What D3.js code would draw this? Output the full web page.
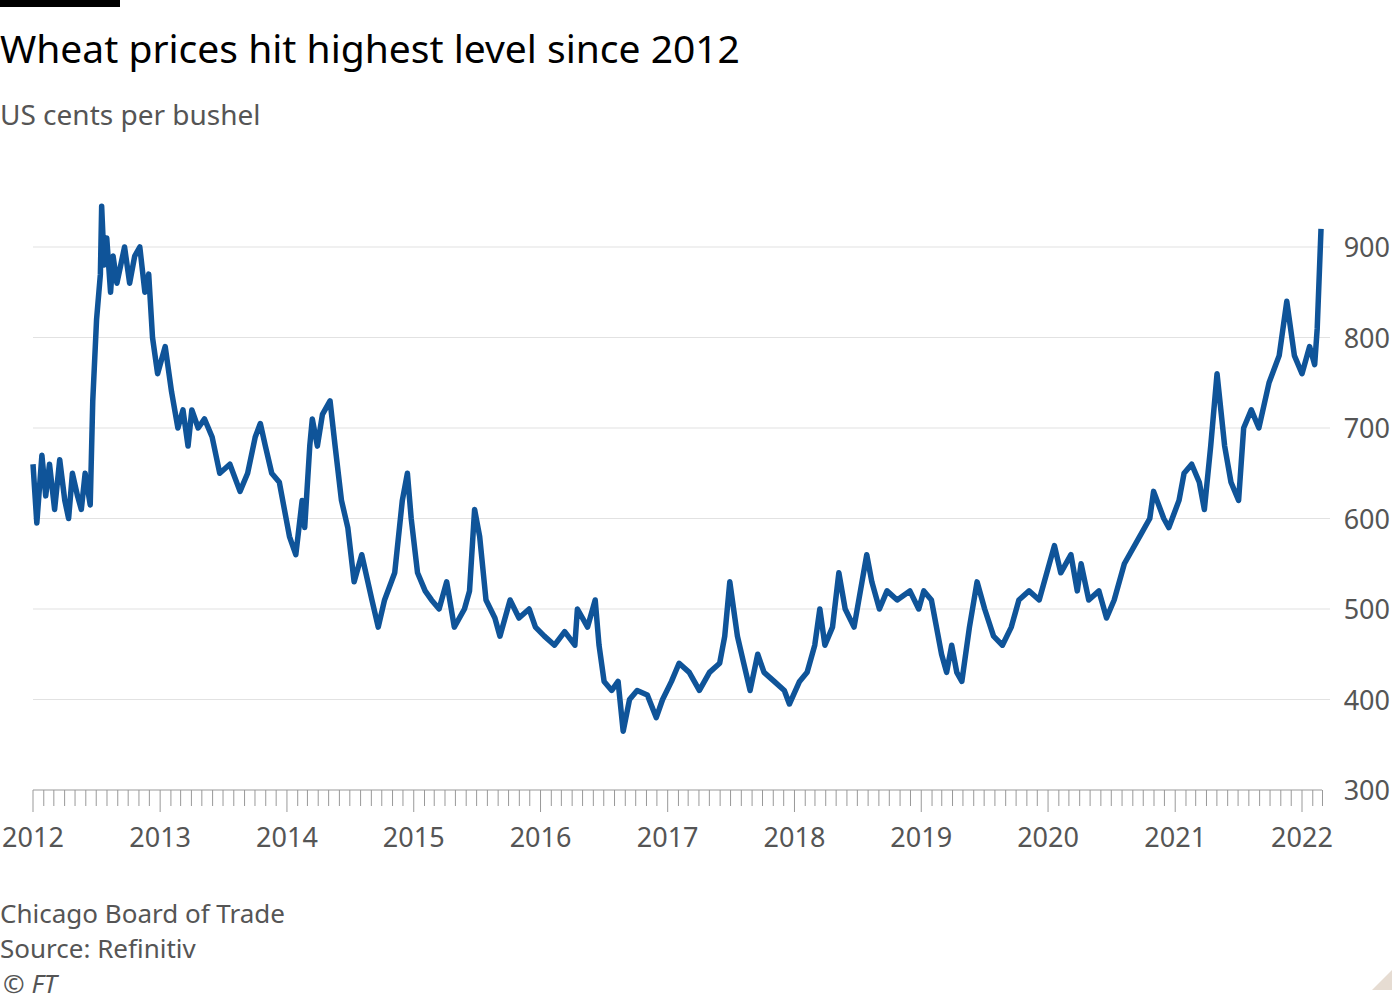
<!DOCTYPE html>
<html><head><meta charset="utf-8">
<script src="https://cdn.jsdelivr.net/npm/d3@7"></script>
<style>body{margin:0;background:#fff;font-family:"Noto Sans",Roboto,sans-serif;}</style>
</head><body>
<svg id="chart" width="1400" height="1000"></svg>
<script>
var times = [2012.0,2012.03,2012.07,2012.1,2012.13,2012.17,2012.21,2012.25,2012.28,2012.31,2012.35,2012.38,2012.41,2012.45,2012.47,2012.5,2012.53,2012.54,2012.56,2012.58,2012.61,2012.63,2012.66,2012.69,2012.72,2012.76,2012.8,2012.84,2012.88,2012.91,2012.94,2012.98,
2013.04,2013.09,2013.14,2013.18,2013.22,2013.25,2013.3,2013.35,2013.41,2013.47,2013.55,2013.63,2013.69,2013.75,2013.79,2013.83,2013.88,2013.94,
2014.02,2014.07,2014.12,2014.14,2014.18,2014.2,2014.24,2014.28,2014.34,2014.38,2014.43,2014.48,2014.53,2014.59,2014.67,2014.72,2014.77,2014.85,2014.91,2014.95,2014.98,
2015.03,2015.09,2015.14,2015.2,2015.26,2015.32,2015.4,2015.44,2015.48,2015.52,2015.57,2015.64,2015.68,2015.76,2015.83,2015.91,2015.96,
2016.03,2016.11,2016.19,2016.27,2016.29,2016.37,2016.43,2016.46,2016.5,2016.56,2016.61,2016.65,2016.7,2016.76,2016.84,2016.91,2016.96,
2017.03,2017.09,2017.17,2017.25,2017.33,2017.41,2017.45,2017.49,2017.55,2017.6,2017.65,2017.71,2017.76,2017.84,2017.92,2017.96,
2018.04,2018.1,2018.16,2018.2,2018.24,2018.3,2018.35,2018.4,2018.47,2018.57,2018.61,2018.67,2018.73,2018.81,2018.91,2018.98,
2019.02,2019.08,2019.16,2019.2,2019.24,2019.28,2019.32,2019.38,2019.44,2019.5,2019.57,2019.64,2019.71,2019.77,2019.85,2019.93,
2020.01,2020.05,2020.1,2020.18,2020.23,2020.26,2020.32,2020.4,2020.46,2020.52,2020.6,2020.72,2020.8,2020.83,2020.91,2020.95,
2021.03,2021.07,2021.13,2021.19,2021.23,2021.28,2021.33,2021.39,2021.44,2021.5,2021.54,2021.6,2021.66,2021.74,2021.82,2021.88,2021.94,
2022.0,2022.06,2022.1,2022.12,2022.15];
var prices = [660,595,670,625,660,610,665,620,600,650,625,610,650,615,730,820,870,945,880,910,850,890,860,880,900,860,890,900,850,870,800,760,
790,740,700,720,680,720,700,710,690,650,660,630,650,690,705,680,650,640,
580,560,620,590,680,710,680,715,730,680,620,590,530,560,510,480,510,540,620,650,600,
540,520,510,500,530,480,500,520,610,580,510,490,470,510,490,500,480,
470,460,475,460,500,480,510,460,420,410,420,365,400,410,405,380,400,
420,440,430,410,430,440,470,530,470,440,410,450,430,420,410,395,
420,430,460,500,460,480,540,500,480,560,530,500,520,510,520,500,
520,510,450,430,460,430,420,480,530,500,470,460,480,510,520,510,
550,570,540,560,520,550,510,520,490,510,550,580,600,630,600,590,
620,650,660,640,610,680,760,680,640,620,700,720,700,750,780,840,780,
760,790,770,810,920];
var yTicks = [300,400,500,600,700,800,900];
var yearTicks = d3.range(2012, 2023);

function toDate(t) {
    var y = Math.floor(t);
    var start = new Date(y, 0, 1), end = new Date(y + 1, 0, 1);
    return new Date(start.getTime() + (t - y) * (end - start));
}

var svg = d3.select("#chart");
var x = d3.scaleTime().domain([new Date(2012,0,1), new Date(2022,0,1)]).range([33, 1302]);
var y = d3.scaleLinear().domain([300, 900]).range([790, 247]);

// header
svg.append("rect").attr("x",0).attr("y",0).attr("width",120).attr("height",7).attr("fill","#000");
svg.append("text").attr("x",0).attr("y",63).attr("font-size",39).attr("fill","#000")
    .text("Wheat prices hit highest level since 2012");
svg.append("text").attr("x",0).attr("y",125).attr("font-size",28).attr("fill","#555")
    .text("US cents per bushel");

// gridlines + right labels
yTicks.forEach(function(v) {
    if (v > 300) svg.append("line").attr("x1",33).attr("x2",1330).attr("y1",y(v)).attr("y2",y(v))
        .attr("stroke","#e2e2e2").attr("stroke-width",1.2);
    svg.append("text").attr("x",1390).attr("y",y(v)+10).attr("text-anchor","end")
        .attr("font-size",27).attr("fill","#555").text(v);
});

// x axis
svg.append("line").attr("x1",33).attr("x2",1322).attr("y1",790).attr("y2",790).attr("stroke","#999");
var months = d3.timeMonth.range(new Date(2012,0,1), new Date(2022,2,2));
months.forEach(function(m) {
    var major = m.getMonth() === 0;
    svg.append("line").attr("x1",x(m)).attr("x2",x(m)).attr("y1",790).attr("y2",major ? 812 : 806)
        .attr("stroke","#999").attr("stroke-width",1);
});
yearTicks.forEach(function(yr) {
    svg.append("text").attr("x",x(new Date(yr,0,1))).attr("y",847).attr("text-anchor","middle")
        .attr("font-size",27).attr("fill","#555").text(yr);
});

// the price line
var line = d3.line().x(function(d){return x(toDate(d[0]));}).y(function(d){return y(d[1]);});
svg.append("path").datum(d3.zip(times, prices)).attr("d", line)
    .attr("fill","none").attr("stroke","#0f5499").attr("stroke-width",5.5).attr("stroke-linejoin","round");

// footer
svg.append("text").attr("x",0).attr("y",923).attr("font-size",26).attr("fill","#555").text("Chicago Board of Trade");
svg.append("text").attr("x",0).attr("y",958).attr("font-size",26).attr("fill","#555").text("Source: Refinitiv");
svg.append("text").attr("x",3).attr("y",993).attr("font-size",26).attr("fill","#555").attr("font-style","italic").text("© FT");
svg.append("path").attr("d","M1372,990 L1392,970 L1392,990 Z").attr("fill","#e6dcd2");
</script>
</body></html>
